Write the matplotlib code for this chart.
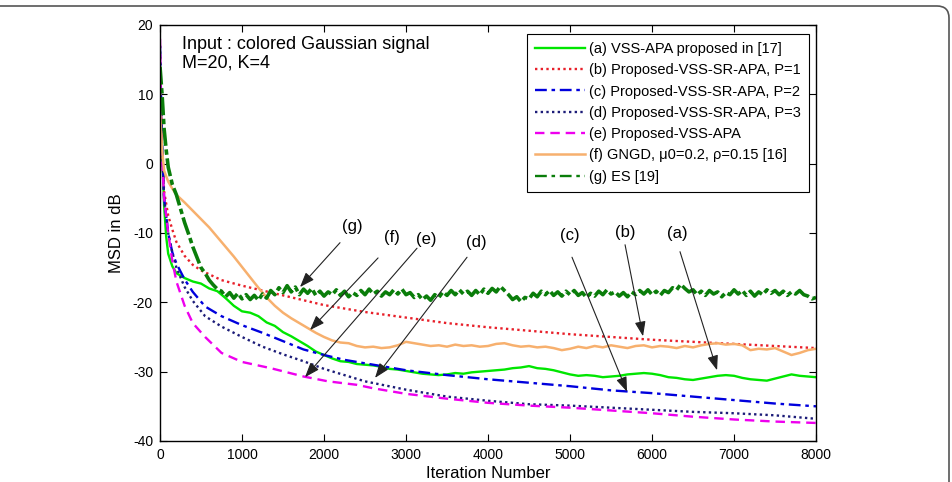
import matplotlib.pyplot as plt
import numpy as np
from matplotlib.patches import FancyBboxPatch, ArrowStyle

plt.rcParams['font.family'] = ['Liberation Sans', 'DejaVu Sans']
plt.rcParams['axes.unicode_minus'] = False

# (a) VSS-APA proposed in [17]
it_a = [0, 25, 50, 75, 100, 150] + list(range(200, 8001, 100))
msd_a = [13, 2, -6, -10.5, -13, -14.8,
         -15.8, -16.5, -17.0, -17.3, -18.0, -18.4, -19.4, -20.5, -21.3, -21.5,
         -22.0, -22.9, -23.4, -24.3, -24.9, -25.6, -26.3, -27.1, -27.6, -28.1,
         -28.5, -28.6, -28.9, -29.0, -29.1, -29.3, -29.6, -29.7, -29.9, -30.1,
         -30.3, -30.4, -30.5, -30.4, -30.2, -30.3, -30.1, -30.0, -29.9, -29.8,
         -29.7, -29.5, -29.4, -29.2, -29.5, -29.6, -29.8, -30.1, -30.4, -30.6,
         -30.5, -30.6, -30.8, -30.7, -30.6, -30.4, -30.3, -30.2, -30.3, -30.5,
         -30.8, -30.9, -31.1, -31.2, -31.0, -30.8, -30.6, -30.5, -30.6, -30.9,
         -31.1, -31.2, -31.3, -31.0, -30.7, -30.4, -30.6, -30.7, -30.8]

# (b) P=1
it_b = [0, 25, 50, 100, 150, 200, 300, 400, 500, 750, 1000, 1250, 1500, 2000,
        2500, 3000, 3500, 4000, 4500, 5000, 5500, 6000, 6500, 7000, 7500, 8000]
msd_b = [14, 2, -4, -7.5, -9.5, -11.3, -13.3, -14.6, -15.4, -16.8, -17.6, -18.3,
         -19.0, -20.4, -21.4, -22.2, -23.0, -23.6, -24.1, -24.6, -25.0, -25.4,
         -25.7, -26.0, -26.3, -26.6]

# (c) P=2
it_c = [0, 25, 50, 100, 150, 200, 300, 400, 550, 750, 1000, 1250, 1500, 1750,
        2000, 2250, 2500, 3000, 3500, 4000, 4500, 5000, 5500, 6000, 6500, 7000,
        7500, 8000]
msd_c = [17, 3, -5, -10, -12.8, -14.4, -16.7, -18.5, -20.6, -22.0, -23.3, -24.4,
         -25.6, -26.8, -27.6, -28.3, -28.8, -29.8, -30.5, -31.1, -31.6, -32.1,
         -32.7, -33.1, -33.6, -34.1, -34.6, -35.0]

# (d) P=3
it_d = it_c
msd_d = [17, 2, -5, -10, -12.8, -15.0, -17.8, -19.8, -22.0, -23.5, -25.0, -26.4,
         -27.5, -28.5, -29.6, -30.5, -31.4, -32.6, -33.6, -34.2, -34.7, -34.9,
         -35.2, -35.5, -35.8, -36.0, -36.3, -36.8]

# (e) Proposed-VSS-APA
it_e = [0, 20, 50, 100, 150, 200, 300, 400, 550, 750, 1000, 1350, 1750, 2050,
        2400, 2600, 3000, 3500, 4000, 4500, 5000, 5500, 6000, 6500, 7000, 7500, 8000]
msd_e = [18, 2, -5, -10, -14, -17, -20.5, -23, -25, -27.3, -28.6, -29.5, -30.7,
         -31.4, -31.9, -32.4, -33.2, -33.9, -34.5, -34.9, -35.2, -35.6, -36.0,
         -36.5, -36.9, -37.2, -37.4]

# (f) GNGD
it_f = [0, 25, 50, 100, 150] + list(range(200, 8001, 100))
msd_f = [8, 2, -1, -2.6, -3.6,
         -4.5, -5.6, -6.8, -8.0, -9.2, -10.6, -12.0, -13.4, -14.9, -16.4,
         -17.9, -19.3, -20.5, -21.5, -22.3, -23.0, -23.7, -24.4, -25.0, -25.5,
         -25.8, -25.9, -26.3, -26.5, -26.4, -26.6, -26.5, -26.2, -25.7, -25.9,
         -26.1, -26.3, -26.2, -26.4, -26.1, -26.3, -26.2, -26.4, -26.3, -26.0,
         -25.9, -26.2, -26.4, -26.3, -26.5, -26.4, -26.6, -26.9, -26.7, -26.4,
         -26.6, -26.3, -26.5, -26.2, -26.4, -26.6, -26.3, -26.2, -26.5, -26.3,
         -26.4, -26.6, -26.3, -26.5, -26.2, -26.0, -25.9, -26.1, -26.0, -26.2,
         -26.9, -26.7, -26.8, -26.6, -27.1, -27.6, -27.3, -26.9, -26.7]

# (g) ES [19]
it_g = [0, 25, 50, 75, 100, 150, 200, 250, 300, 350, 400, 450, 500, 550, 600,
        650, 700] + list(range(750, 8001, 50))
msd_g = [14, 10, 5, 2, -0.5, -3, -4.5, -6.5, -8.5, -10.2, -12, -13.5, -15, -15.8,
         -16.8, -17.5, -18.1,
         -18.4, -19.2, -18.6, -19.4, -18.7,
         -19.5, -18.9, -19.6, -19.0, -19.7, -18.8, -19.4, -18.3, -18.9, -17.9,
         -18.6, -17.6, -18.5, -17.8, -18.9, -18.1, -18.7, -18.0, -19.0, -18.4,
         -19.1, -18.5, -18.9, -18.2, -19.0, -18.4, -19.2, -18.6, -19.0, -18.3,
         -18.9, -18.1, -18.8, -18.4, -19.1, -18.5, -18.9, -18.2, -18.8, -18.1,
         -18.9, -18.6, -19.3, -18.9, -19.6, -19.1, -19.7, -18.9, -19.3, -18.5,
         -19.0, -18.3, -18.9, -18.2, -18.8, -18.4, -19.0, -18.3, -18.9, -18.1,
         -18.7, -18.0, -18.5, -17.7, -18.3, -18.9, -19.6, -19.2, -19.9, -19.3,
         -19.5, -18.7, -19.2, -18.4, -18.9, -18.3, -19.0, -18.5, -19.1, -18.4,
         -18.9, -18.3, -19.0, -18.6, -19.3, -18.7, -19.1, -18.4, -18.9, -18.2,
         -18.8, -18.5, -19.1, -18.6, -19.2, -18.5, -18.9, -18.3, -18.8, -18.2,
         -18.9, -18.4, -19.0, -18.3, -18.6, -17.9, -18.2, -17.4, -18.0, -18.5,
         -18.2, -18.9, -18.4, -19.0, -18.3, -18.8, -18.5, -19.2, -18.6, -18.9,
         -18.2, -18.8, -18.3, -19.0, -18.4, -19.1, -18.5, -18.9, -18.2, -18.7,
         -18.3, -18.9, -18.4, -19.0, -18.5, -18.8, -18.3, -18.9, -19.1, -19.5,
         -19.3]

labels = ['(a) VSS-APA proposed in [17]',
          '(b) Proposed-VSS-SR-APA, P=1',
          '(c) Proposed-VSS-SR-APA, P=2',
          '(d) Proposed-VSS-SR-APA, P=3',
          '(e) Proposed-VSS-APA',
          '(f) GNGD, \u03bc0=0.2, \u03c1=0.15 [16]',
          '(g) ES [19]']

# arrow annotations: label, label pos, arrow tail, arrow head
ann_names = ['(g)', '(f)', '(e)', '(d)', '(c)', '(b)', '(a)']
ann_text = [(2341, -9.0), (2829, -10.7), (3244, -11.0), (3854, -11.4),
            (5000, -10.3), (5671, -10.0), (6305, -10.1)]
ann_tail = [(2195, -11.4), (2659, -13.6), (3134, -12.2), (3744, -13.5),
            (5024, -13.5), (5671, -11.7), (6341, -12.7)]
ann_head = [(1707, -17.8), (1829, -24.0), (1768, -30.8), (2622, -30.9),
            (5695, -32.9), (5890, -24.9), (6793, -29.8)]

fig = plt.figure(figsize=(9.53, 4.82), dpi=100)
ax = fig.add_axes([0.1679, 0.0851, 0.6884, 0.8631])

ax.plot(it_a, msd_a, color='#00e600', lw=1.7, ls='-', label=labels[0])
ax.plot(it_b, msd_b, color='#e8202a', lw=1.7, ls=(0, (1, 1.4)), label=labels[1])
ax.plot(it_c, msd_c, color='#0000dd', lw=1.7, ls=(0, (5, 2, 1.5, 2)), label=labels[2])
ax.plot(it_d, msd_d, color='#1c1c78', lw=1.7, ls=(0, (1, 1.4)), label=labels[3])
ax.plot(it_e, msd_e, color='#ee00ee', lw=1.7, ls=(0, (4, 2.5)), label=labels[4])
ax.plot(it_f, msd_f, color='#f7b06e', lw=1.8, ls='-', label=labels[5])
gline, = ax.plot(it_g, msd_g, color='#0a7d0a', lw=2.6, ls=(0, (5, 1, 1.5, 1)))
# legend handle for (g) keeps the open dash-dot look
ax.plot([], [], color='#0a7d0a', lw=1.7, ls=(0, (5, 2, 1.5, 2)), label=labels[6])

ax.set_xlim(0, 8000)
ax.set_ylim(-40, 20)
ax.set_xticks(range(0, 8001, 1000))
ax.set_yticks(range(-40, 21, 10))
ax.tick_params(direction='in', top=True, right=True, length=5, width=0.8,
               labelsize=10, pad=5)
for s in ax.spines.values():
    s.set_linewidth(1.0)
ax.set_xlabel('Iteration Number', fontsize=12, labelpad=3)
ax.set_ylabel('MSD in dB', fontsize=12, labelpad=6)

ax.text(0.0335, 0.974, 'Input : colored Gaussian signal\nM=20, K=4',
        transform=ax.transAxes, fontsize=13, va='top', ha='left',
        linespacing=1.1)

astyle = ArrowStyle('-|>', head_length=0.6, head_width=0.22)
for name, txy, tail, head in zip(ann_names, ann_text, ann_tail, ann_head):
    ax.annotate('', xy=head, xytext=tail,
                arrowprops=dict(arrowstyle=astyle, color='#222222', lw=0.8,
                                mutation_scale=15, shrinkA=0, shrinkB=0))
    ax.text(txy[0], txy[1], name, fontsize=12, ha='center', va='center')

leg = ax.legend(loc='upper right', bbox_to_anchor=(0.9893, 0.9784),
                borderaxespad=0, fontsize=10.5, fancybox=False,
                edgecolor='black', framealpha=1, handlelength=3.4,
                handletextpad=0.3, labelspacing=0.5, borderpad=0.55)
leg.get_frame().set_linewidth(0.8)

# rounded figure border (journal frame)
frame = FancyBboxPatch((-0.5, -0.5), 9.99, 5.26,
                       boxstyle='round,pad=0,rounding_size=0.12',
                       transform=fig.dpi_scale_trans, fill=False,
                       edgecolor='#555555', lw=1.2)
fig.patches.append(frame)

fig.savefig('out.png', dpi=100)
